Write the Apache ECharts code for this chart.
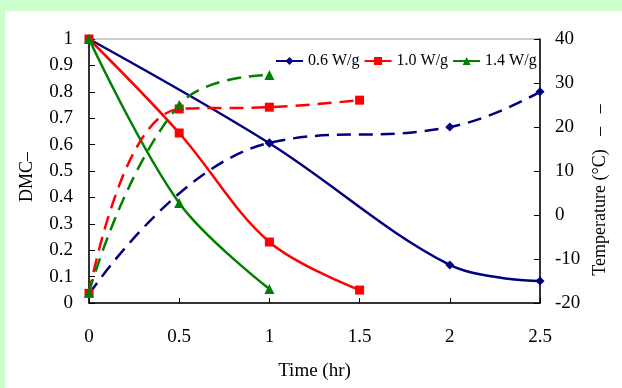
<!DOCTYPE html>
<html>
<head>
<meta charset="utf-8">
<script src="https://cdn.jsdelivr.net/npm/echarts@6/dist/echarts.min.js"></script>
<style>
html,body{margin:0;padding:0;background:#ccffcc;}
#c{width:622px;height:388px;}
</style>
</head>
<body>
<div id="c"></div>
<script>
// Data
var seriesNames = ['0.6 W/g', '1.0 W/g', '1.4 W/g'];
var time06 = [0, 1, 2, 2.5];
var dmc06 = [1, 0.605, 0.144, 0.083];
var temp06 = [-18, 16.4, 20, 28];
var time10 = [0, 0.5, 1, 1.5];
var dmc10 = [1, 0.644, 0.231, 0.049];
var temp10 = [-17.8, 24.1, 24.5, 26.1];
var time14 = [0, 0.5, 1];
var dmc14 = [1, 0.379, 0.053];
var temp14 = [-17.6, 25, 31.8];

function pairs(xs, ys) { return xs.map(function (x, i) { return [x, ys[i]]; }); }

var font = "'Liberation Serif','Times New Roman',serif";
var colors = ['#000080', '#ff0000', '#008000'];
var symbols = ['diamond', 'rect', 'triangle'];
var symSizes = [9, 9, 10];
var dmcSets = [pairs(time06, dmc06), pairs(time10, dmc10), pairs(time14, dmc14)];
var tempSets = [pairs(time06, temp06), pairs(time10, temp10), pairs(time14, temp14)];

var series = [];
for (var i = 0; i < 3; i++) {
  series.push({
    name: seriesNames[i], type: 'line', yAxisIndex: 0, data: dmcSets[i],
    smooth: 0.35, symbol: symbols[i], symbolSize: symSizes[i],
    lineStyle: {color: colors[i], width: 2.5}, itemStyle: {color: colors[i]}
  });
}
for (var j = 0; j < 3; j++) {
  series.push({
    name: seriesNames[j], type: 'line', yAxisIndex: 1, data: tempSets[j],
    smooth: 0.45, symbol: symbols[j], symbolSize: symSizes[j],
    lineStyle: {color: colors[j], width: 2.5, type: [14, 8]}, itemStyle: {color: colors[j]}
  });
}

var chart = echarts.init(document.getElementById('c'));
chart.setOption({
  animation: false,
  backgroundColor: '#ccffcc',
  graphic: [{type: 'rect', z: -10, shape: {x: 5, y: 11, width: 617, height: 377}, style: {fill: '#ffffff'}}],
  grid: {left: 89, top: 39, right: 82, bottom: 85, show: true, borderColor: '#999999', borderWidth: 1, backgroundColor: 'transparent'},
  legend: {
    data: seriesNames, left: 275, top: 53, padding: 0, itemWidth: 27, itemHeight: 10, itemGap: 4,
    textStyle: {fontFamily: font, fontSize: 16, color: '#000'}
  },
  xAxis: {
    type: 'value', min: 0, max: 2.5, interval: 0.5,
    name: 'Time (hr)', nameLocation: 'middle', nameGap: 59,
    nameTextStyle: {fontFamily: font, fontSize: 19, color: '#000'},
    axisLine: {lineStyle: {color: '#000', width: 1.5}},
    axisTick: {inside: true, length: 5, lineStyle: {color: '#000'}},
    axisLabel: {margin: 25, fontFamily: font, fontSize: 19, color: '#000'},
    splitLine: {show: false}
  },
  yAxis: [{
    type: 'value', min: 0, max: 1, interval: 0.1, position: 'left',
    name: 'DMC–', nameLocation: 'middle', nameGap: 53, nameRotate: 90,
    nameTextStyle: {fontFamily: font, fontSize: 18, color: '#000', padding: [0, 12, 0, 0]},
    axisLine: {show: true, lineStyle: {color: '#000', width: 1.5}},
    axisTick: {show: true, inside: true, length: 6, lineStyle: {color: '#000'}},
    axisLabel: {margin: 16, fontFamily: font, fontSize: 19, color: '#000'},
    splitLine: {show: false}
  }, {
    type: 'value', min: -20, max: 40, interval: 10, position: 'right',
    name: 'Temperature (°C)   –   –', nameLocation: 'middle', nameGap: 46, nameRotate: 90,
    nameTextStyle: {fontFamily: font, fontSize: 18, color: '#000', padding: [0, 38, 0, 0]},
    axisLine: {show: true, lineStyle: {color: '#000', width: 1.5}},
    axisTick: {show: true, inside: true, length: 6, lineStyle: {color: '#000'}},
    axisLabel: {margin: 15, fontFamily: font, fontSize: 19, color: '#000'},
    splitLine: {show: false}
  }],
  series: series
});
</script>
</body>
</html>
